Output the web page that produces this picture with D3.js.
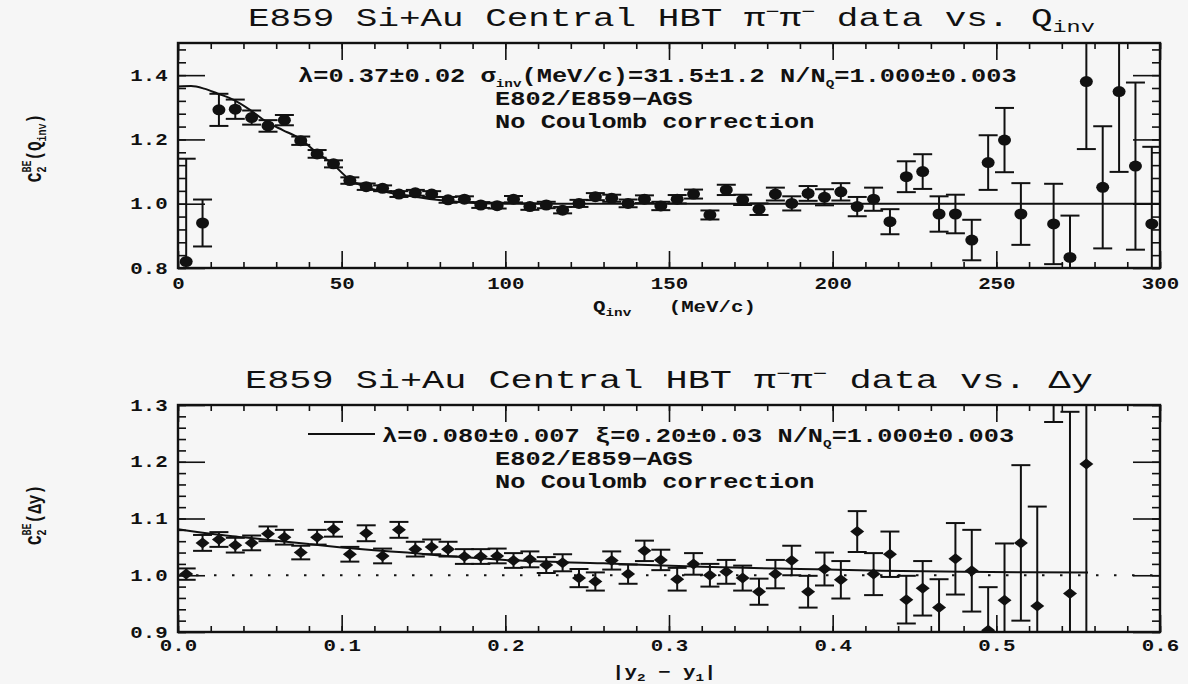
<!DOCTYPE html>
<html>
<head>
<meta charset="utf-8">
<script src="https://cdn.jsdelivr.net/npm/d3@7"></script>
<style>
  body { margin: 0; background: #f6f6f6; }
  svg { display: block; background: #f6f6f6; }
  text { fill: #111; white-space: pre; }
  .mono-b { font-family: 'Liberation Mono', monospace; font-weight: bold; }
  .mono { font-family: 'Liberation Mono', monospace; font-weight: normal; }
  .tick text { font-family: 'Liberation Mono', monospace; font-weight: bold; font-size: 16px; }
  .tick line { stroke: #111; stroke-width: 1.6; }
  .domain { display: none; }
</style>
</head>
<body>
<svg id="chart" width="1188" height="684"></svg>
<script>
// ---- top panel: C2 vs Qinv (MeV/c) ----
const qinv = [2.5, 7.5, 12.5, 17.5, 22.5, 27.5, 32.5, 37.5, 42.5, 47.5,
  52.5, 57.5, 62.5, 67.5, 72.5, 77.5, 82.5, 87.5, 92.5, 97.5,
  102.5, 107.5, 112.5, 117.5, 122.5, 127.5, 132.5, 137.5, 142.5, 147.5,
  152.5, 157.5, 162.5, 167.5, 172.5, 177.5, 182.5, 187.5, 192.5, 197.5,
  202.5, 207.5, 212.5, 217.5, 222.5, 227.5, 232.5, 237.5, 242.5, 247.5,
  252.5, 257.5, 267.5, 272.5, 277.5, 282.5, 287.5, 292.5, 297.5]
const c2Qinv = [0.82, 0.94, 1.292, 1.294, 1.268, 1.242, 1.260, 1.196, 1.155, 1.124,
  1.072, 1.053, 1.048, 1.030, 1.034, 1.030, 1.012, 1.014, 0.996, 0.994,
  1.014, 0.991, 0.996, 0.980, 1.001, 1.022, 1.017, 1.001, 1.014, 0.993,
  1.014, 1.030, 0.965, 1.043, 1.012, 0.983, 1.030, 1.001, 1.032, 1.020,
  1.037, 0.991, 1.014, 0.944, 1.084, 1.100, 0.968, 0.968, 0.887, 1.128,
  1.198, 0.968, 0.937, 0.833, 1.380, 1.051, 1.349, 1.117, 0.937]
const c2QinvErr = [0.32, 0.073, 0.05, 0.03, 0.022, 0.018, 0.016, 0.013, 0.012, 0.011,
  0.010, 0.010, 0.009, 0.009, 0.009, 0.009, 0.009, 0.009, 0.009, 0.009,
  0.010, 0.010, 0.010, 0.010, 0.011, 0.011, 0.011, 0.012, 0.012, 0.013,
  0.013, 0.014, 0.014, 0.016, 0.016, 0.018, 0.020, 0.022, 0.023, 0.025,
  0.027, 0.030, 0.036, 0.039, 0.048, 0.054, 0.055, 0.060, 0.063, 0.085,
  0.10, 0.096, 0.125, 0.13, 0.21, 0.19, 0.25, 0.26, 0.24]
// fit curve
const qFitX = [0, 4, 8, 12, 17, 22, 27, 32, 37, 42, 47, 52, 57, 63, 69, 79, 89, 100, 150, 200, 250, 300]
const qFitY = [1.365, 1.366, 1.358, 1.343, 1.323, 1.292, 1.255, 1.229, 1.204, 1.162, 1.126,
  1.079, 1.053, 1.038, 1.027, 1.012, 1.003, 1.0, 1.0, 1.0, 1.0, 1.0]
const qTickLabels = [0, 50, 100, 150, 200, 250, 300]
const qYTickLabels = [0.8, 1.0, 1.2, 1.4]

// ---- bottom panel: C2 vs |y2 - y1| ----
const dyBins = [0.005, 0.015, 0.025, 0.035, 0.045, 0.055, 0.065, 0.075, 0.085, 0.095,
  0.105, 0.115, 0.125, 0.135, 0.145, 0.155, 0.165, 0.175, 0.185, 0.195,
  0.205, 0.215, 0.225, 0.235, 0.245, 0.255, 0.265, 0.275, 0.285, 0.295,
  0.305, 0.315, 0.325, 0.335, 0.345, 0.355, 0.365, 0.375, 0.385, 0.395,
  0.405, 0.415, 0.425, 0.435, 0.445, 0.455, 0.465, 0.475, 0.485, 0.495,
  0.505, 0.515, 0.525, 0.535, 0.545, 0.555]
const c2Dy = [1.002, 1.057, 1.063, 1.053, 1.057, 1.073, 1.067, 1.040, 1.067, 1.081,
  1.037, 1.074, 1.034, 1.080, 1.046, 1.050, 1.046, 1.033, 1.033, 1.034,
  1.026, 1.028, 1.018, 1.022, 0.995, 0.989, 1.026, 1.002, 1.043, 1.027,
  0.993, 1.020, 1.000, 1.006, 0.995, 0.971, 1.002, 1.026, 0.971, 1.011,
  0.992, 1.077, 1.002, 1.037, 0.957, 0.977, 0.943, 1.029, 1.008, 0.903,
  0.956, 1.057, 0.946, 1.42, 0.968, 1.196]
const c2DyErr = [0.010, 0.014, 0.013, 0.013, 0.013, 0.013, 0.013, 0.012, 0.013, 0.013,
  0.013, 0.014, 0.013, 0.014, 0.013, 0.013, 0.013, 0.013, 0.013, 0.013,
  0.013, 0.014, 0.014, 0.015, 0.016, 0.016, 0.016, 0.017, 0.018, 0.018,
  0.020, 0.019, 0.020, 0.021, 0.022, 0.023, 0.025, 0.026, 0.028, 0.029,
  0.033, 0.036, 0.037, 0.040, 0.042, 0.048, 0.050, 0.063, 0.072, 0.076,
  0.10, 0.137, 0.175, 0.15, 0.32, 0.40]
const dyFitX = [0, 0.02, 0.04, 0.06, 0.08, 0.10, 0.12, 0.14, 0.16, 0.18, 0.20, 0.26, 0.32, 0.38, 0.43, 0.48, 0.556]
const dyFitY = [1.081, 1.073, 1.067, 1.061, 1.055, 1.049, 1.044, 1.040, 1.035, 1.031, 1.027,
  1.021, 1.015, 1.011, 1.008, 1.006, 1.005]
const dyTickLabels = [0.0, 0.1, 0.2, 0.3, 0.4, 0.5, 0.6]
const dyYTickLabels = [0.9, 1.0, 1.1, 1.2, 1.3]

const svg = d3.select('#chart')
const plotLeft = 178
const plotRight = 1160
const stretch = 1.3 // the scan is wider than tall, text included

function addRuns (text, runs) {
  let prev = 0
  runs.forEach(r => {
    const shift = r.shift || 0
    text.append('tspan')
      .attr('dy', shift - prev)
      .attr('dx', r.dx || null)
      .attr('font-size', r.size || null)
      .text(r.t)
    prev = shift
  })
  return text
}

function label (x, y, cls, size, runs, rotate) {
  const t = svg.append('text')
    .attr('class', cls)
    .attr('font-size', size)
    .attr('transform', `translate(${x},${y}) scale(${stretch},1)` + (rotate ? ' rotate(-90)' : ''))
  if (rotate) t.attr('text-anchor', 'middle')
  return addRuns(t, runs)
}

function title (x, y, width, runs) {
  const t = svg.append('text').attr('class', 'mono').attr('font-size', 26)
  addRuns(t, runs)
  const sx = width / t.node().getComputedTextLength()
  t.attr('transform', `translate(${x},${y}) scale(${sx},1)`)
}

function drawPanel (p) {
  const x = d3.scaleLinear().domain(p.xDomain).range([plotLeft, plotRight])
  const y = d3.scaleLinear().domain(p.yDomain).range([p.bottom, p.top])
  const g = svg.append('g')

  svg.append('clipPath').attr('id', p.id + '-clip')
    .append('rect')
    .attr('x', plotLeft).attr('y', p.top)
    .attr('width', plotRight - plotLeft).attr('height', p.bottom - p.top)

  // ticks on all four sides, pointing inward
  const axes = g.append('g').classed('axes', true)
  axes.append('g').attr('transform', `translate(0,${p.bottom})`)
    .call(d3.axisBottom(x).tickValues(p.xMinor).tickSize(-6).tickFormat(''))
  axes.append('g').attr('transform', `translate(0,${p.bottom})`)
    .call(d3.axisBottom(x).tickValues(p.xMajor).tickSize(-17).tickPadding(p.xPad).tickFormat(p.xFormat))
  axes.append('g').attr('transform', `translate(0,${p.top})`)
    .call(d3.axisTop(x).tickValues(p.xMinor).tickSize(-6).tickFormat(''))
  axes.append('g').attr('transform', `translate(0,${p.top})`)
    .call(d3.axisTop(x).tickValues(p.xMajor).tickSize(-17).tickFormat(''))
  axes.append('g').attr('transform', `translate(${plotLeft},0)`)
    .call(d3.axisLeft(y).tickValues(p.yMinor).tickSize(-8).tickFormat(''))
  axes.append('g').attr('transform', `translate(${plotLeft},0)`)
    .call(d3.axisLeft(y).tickValues(p.yMajor).tickSize(-27).tickPadding(8).tickFormat(d3.format('.1f')))
  axes.append('g').attr('transform', `translate(${plotRight},0)`)
    .call(d3.axisRight(y).tickValues(p.yMinor).tickSize(-8).tickFormat(''))
  axes.append('g').attr('transform', `translate(${plotRight},0)`)
    .call(d3.axisRight(y).tickValues(p.yMajor).tickSize(-27).tickFormat(''))
  axes.selectAll('.tick text').attr('transform', `scale(${stretch},1)`)

  g.append('rect')
    .attr('x', plotLeft).attr('y', p.top)
    .attr('width', plotRight - plotLeft).attr('height', p.bottom - p.top)
    .attr('fill', 'none').attr('stroke', '#111').attr('stroke-width', 2.4)

  const plot = g.append('g').attr('clip-path', `url(#${p.id}-clip)`)

  if (p.refLine) {
    plot.append('line')
      .attr('x1', x(p.xDomain[0])).attr('x2', x(p.xDomain[1]))
      .attr('y1', y(p.refLine)).attr('y2', y(p.refLine))
      .attr('stroke', '#111').attr('stroke-width', 2)
      .attr('stroke-dasharray', '2.5 15.5')
  }

  const fit = p.fitX.map((d, i) => [d, p.fitY[i]])
  plot.append('path')
    .datum(fit)
    .attr('fill', 'none').attr('stroke', '#111').attr('stroke-width', 2)
    .attr('d', d3.line().x(d => x(d[0])).y(d => y(d[1])).curve(d3.curveMonotoneX))

  const pts = p.xs.map((d, i) => ({ x: d, c: p.ys[i], e: p.errs[i] }))
  const bars = plot.append('g').attr('stroke', '#111').attr('stroke-width', 2)
  bars.selectAll('line.v').data(pts).enter().append('line').classed('v', true)
    .attr('x1', d => x(d.x)).attr('x2', d => x(d.x))
    .attr('y1', d => y(d.c - d.e)).attr('y2', d => y(d.c + d.e))
  bars.selectAll('line.hi').data(pts).enter().append('line').classed('hi', true)
    .attr('x1', d => x(d.x) - 9.5).attr('x2', d => x(d.x) + 9.5)
    .attr('y1', d => y(d.c + d.e)).attr('y2', d => y(d.c + d.e))
  bars.selectAll('line.lo').data(pts).enter().append('line').classed('lo', true)
    .attr('x1', d => x(d.x) - 9.5).attr('x2', d => x(d.x) + 9.5)
    .attr('y1', d => y(d.c - d.e)).attr('y2', d => y(d.c - d.e))

  if (p.marker === 'circle') {
    plot.selectAll('ellipse').data(pts).enter().append('ellipse')
      .attr('cx', d => x(d.x)).attr('cy', d => y(d.c))
      .attr('rx', 6.5).attr('ry', 5.5).attr('fill', '#111')
  } else {
    plot.selectAll('path.mk').data(pts).enter().append('path').classed('mk', true)
      .attr('d', d => {
        const cx = x(d.x)
        const cy = y(d.c)
        return `M${cx},${cy - 5.5}L${cx + 7},${cy}L${cx},${cy + 5.5}L${cx - 7},${cy}Z`
      })
      .attr('fill', '#111')
  }
  return { x, y }
}

drawPanel({
  id: 'qinv',
  top: 43,
  bottom: 268,
  xDomain: [0, 300],
  yDomain: [0.8, 1.5],
  xMajor: qTickLabels,
  xMinor: d3.range(0, 301, 10),
  yMajor: qYTickLabels,
  yMinor: d3.range(0, 18).map(i => 0.8 + i * 0.04),
  xPad: 10,
  xFormat: d3.format('d'),
  xs: qinv,
  ys: c2Qinv,
  errs: c2QinvErr,
  fitX: qFitX,
  fitY: qFitY,
  marker: 'circle'
})

drawPanel({
  id: 'dy',
  top: 405,
  bottom: 632,
  xDomain: [0, 0.6],
  yDomain: [0.9, 1.3],
  xMajor: dyTickLabels,
  xMinor: d3.range(0, 31).map(i => i * 0.02),
  yMajor: dyYTickLabels,
  yMinor: d3.range(0, 21).map(i => 0.9 + i * 0.02),
  xPad: 8,
  xFormat: d3.format('.1f'),
  xs: dyBins,
  ys: c2Dy,
  errs: c2DyErr,
  fitX: dyFitX,
  fitY: dyFitY,
  marker: 'diamond',
  refLine: 1.0
})

// titles
title(248, 26, 847, [
  { t: 'E859 Si+Au Central HBT \u03c0' }, { t: '\u2212', shift: -9, size: 17 },
  { t: '\u03c0' }, { t: '\u2212', shift: -9, size: 17 },
  { t: ' data vs. Q' }, { t: 'inv', shift: 6, size: 17 }
])
title(245, 388, 848, [
  { t: 'E859 Si+Au Central HBT \u03c0' }, { t: '\u2212', shift: -9, size: 17 },
  { t: '\u03c0' }, { t: '\u2212', shift: -9, size: 17 },
  { t: ' data vs. \u0394y' }
])

// annotations, top
label(298, 82, 'mono-b', 19.5, [
  { t: '\u03bb=0.37\u00b10.02 \u03c3' }, { t: 'inv', shift: 5, size: 11 },
  { t: '(MeV/c)=31.5\u00b11.2 N/N' }, { t: 'Q', shift: 5, size: 11 },
  { t: '=1.000\u00b10.003' }
])
label(495, 105, 'mono-b', 19.5, [{ t: 'E802/E859\u2212AGS' }])
label(495, 128, 'mono-b', 19.5, [{ t: 'No Coulomb correction' }])

// annotations, bottom
svg.append('line')
  .attr('x1', 308).attr('x2', 375).attr('y1', 434).attr('y2', 434)
  .attr('stroke', '#111').attr('stroke-width', 2)
label(382, 442, 'mono-b', 19.5, [
  { t: '\u03bb=0.080\u00b10.007 \u03be=0.20\u00b10.03 N/N' }, { t: 'Q', shift: 5, size: 11 },
  { t: '=1.000\u00b10.003' }
])
label(495, 465, 'mono-b', 19.5, [{ t: 'E802/E859\u2212AGS' }])
label(495, 488, 'mono-b', 19.5, [{ t: 'No Coulomb correction' }])

// axis titles
label(593, 312, 'mono-b', 16, [
  { t: 'Q' }, { t: 'inv', shift: 4, size: 11 }, { t: '   (MeV/c)' }
])
label(612, 677, 'mono-b', 16, [
  { t: '|y' }, { t: '2', shift: 4, size: 11 }, { t: ' \u2212 y' }, { t: '1', shift: 4, size: 11 }, { t: '|' }
])
label(41, 148, 'mono-b', 16, [
  { t: 'C' }, { t: '2', shift: 4, size: 10 }, { t: 'BE', shift: -8, size: 10, dx: -6 },
  { t: '(Q' }, { t: 'inv', shift: 4, size: 10 }, { t: ')' }
], true)
label(41, 515, 'mono-b', 16, [
  { t: 'C' }, { t: '2', shift: 4, size: 10 }, { t: 'BE', shift: -8, size: 10, dx: -6 },
  { t: '(\u0394y)' }
], true)
</script>
</body>
</html>
